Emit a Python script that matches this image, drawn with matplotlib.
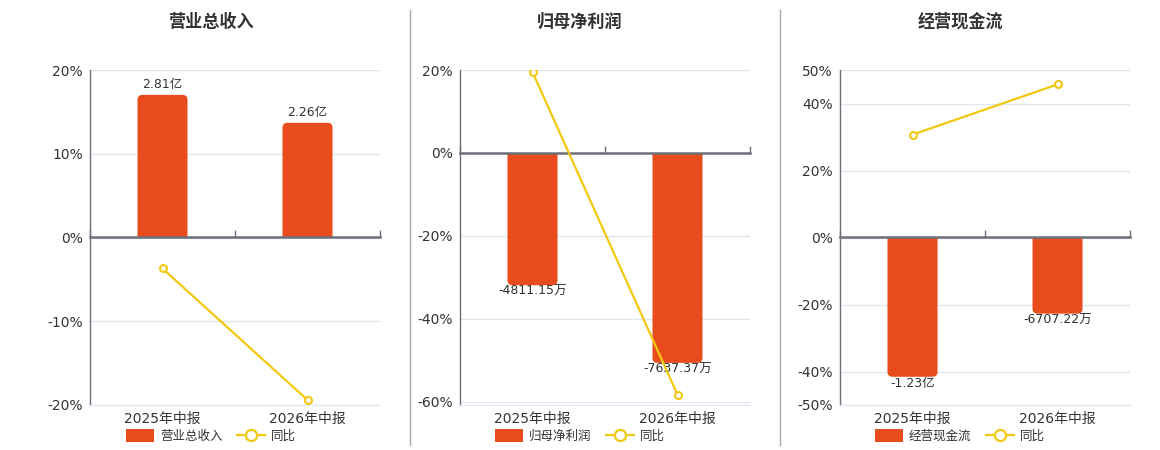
import matplotlib
matplotlib.use("Agg")
import matplotlib.pyplot as plt
from matplotlib.lines import Line2D
from matplotlib.patches import Patch, PathPatch
from matplotlib.path import Path

plt.rcParams['font.family'] = ['DejaVu Sans', 'Noto Sans CJK SC']

categories = ["2025年中报", "2026年中报"]

titles = ["营业总收入", "归母净利润", "经营现金流"]
bar_names = ["营业总收入", "归母净利润", "经营现金流"]

# bar values (营业总收入 in 亿, others in 万)
revenue = [2.81, 2.26]
net_profit = [-4811.15, -7637.37]
cash_flow = [-12300.0, -6707.22]

revenue_labels = ["2.81亿", "2.26亿"]
net_profit_labels = ["-4811.15万", "-7637.37万"]
cash_flow_labels = ["-1.23亿", "-6707.22万"]

# YoY (%)
revenue_yoy = [-3.7, -19.4]
net_profit_yoy = [19.5, -58.3]
cash_flow_yoy = [30.7, 45.7]

pct_ticks = [[-20, -10, 0, 10, 20], [-60, -40, -20, 0, 20], [-50, -40, -20, 0, 20, 40, 50]]
pct_lims = [(-20, 20), (-60.8, 20), (-50, 50)]
bar_lims = [(-3.3, 3.3), (-9170, 3020), (-14800, 14870)]

bars_all = [revenue, net_profit, cash_flow]
labels_all = [revenue_labels, net_profit_labels, cash_flow_labels]
yoy_all = [revenue_yoy, net_profit_yoy, cash_flow_yoy]

BAR = "#e84c1d"
LINE = "#f2c811"
AXIS = "#6e7079"
GRID = "#e0e6f1"
TEXT = "#333333"

W, H = 1160, 450
fig = plt.figure(figsize=(W / 100, H / 100), dpi=100)

lefts = [90, 460, 840]
centers = [211, 580, 960]
top_px, bot_px, width_px = 70, 405, 290
height_px = bot_px - top_px
radius_px = 5


def rounded_bar_path(x0, w, v, rx, ry):
    s = 1 if v >= 0 else -1
    x1 = x0 + w
    ry = min(ry, abs(v))
    verts = [(x0, 0), (x0, v - s * ry), (x0, v), (x0 + rx, v),
             (x1 - rx, v), (x1, v), (x1, v - s * ry), (x1, 0), (x0, 0)]
    codes = [Path.MOVETO, Path.LINETO, Path.CURVE3, Path.CURVE3,
             Path.LINETO, Path.CURVE3, Path.CURVE3, Path.LINETO, Path.CLOSEPOLY]
    return Path(verts, codes)


for i in range(3):
    ax = fig.add_axes([lefts[i] / W, 1 - bot_px / H, width_px / W, height_px / H])
    ax.set_xlim(-0.5, 1.5)
    ax.set_ylim(*pct_lims[i])
    ax.set_yticks(pct_ticks[i])
    ax.set_yticklabels([f"{t}%" for t in pct_ticks[i]])
    ax.grid(axis='y', color=GRID, linewidth=1)
    ax.set_axisbelow(True)
    ax.tick_params(axis='y', length=0, pad=5, labelsize=10, labelcolor=TEXT)
    ax.set_xticks(range(len(categories)))
    ax.set_xticklabels(categories)
    ax.tick_params(axis='x', length=0, pad=5, labelsize=10, labelcolor=TEXT)
    for s in ['top', 'right']:
        ax.spines[s].set_visible(False)
    ax.spines['bottom'].set_color(GRID)
    ax.spines['left'].set_color(AXIS)
    ax.spines['left'].set_linewidth(1)

    # bars on hidden twin axis
    bx = ax.twinx()
    blo, bhi = bar_lims[i]
    bx.set_ylim(blo, bhi)
    bx.axis('off')
    rects = bx.bar(range(len(categories)), bars_all[i], width=0.345, color=BAR, zorder=2)
    xpp = 2.0 / width_px
    ypp = (bhi - blo) / height_px
    for r, v, lab in zip(rects, bars_all[i], labels_all[i]):
        x0, w = r.get_x(), r.get_width()
        x = x0 + w / 2
        r.set_visible(False)
        bx.add_patch(PathPatch(rounded_bar_path(x0, w, v, radius_px * xpp, radius_px * ypp),
                               facecolor=BAR, edgecolor='none', zorder=2))
        if v >= 0:
            bx.annotate(lab, (x, v), xytext=(0, 3), textcoords='offset points',
                        ha='center', va='bottom', fontsize=9, color=TEXT)
        else:
            bx.annotate(lab, (x, v), xytext=(0, 0), textcoords='offset points',
                        ha='center', va='top', fontsize=9, color=TEXT)

    # yoy line on top
    lx = ax.twinx()
    lx.set_ylim(*pct_lims[i])
    lx.axis('off')

    # zero axis line with category boundary ticks (above bars)
    lo, hi = pct_lims[i]
    zfrac = (0 - lo) / (hi - lo)
    sec = lx.secondary_xaxis(zfrac)
    sec.set_xticks([-0.5, 0.5, 1.5])
    sec.set_xticklabels([])
    sec.tick_params(axis='x', direction='out', length=5, width=1, color=AXIS)
    for sp in sec.spines.values():
        sp.set_color(AXIS)
        sp.set_linewidth(1.8)

    lx.plot(range(len(categories)), yoy_all[i], color=LINE, linewidth=1.6,
            marker='o', markersize=5, markerfacecolor='white', markeredgecolor=LINE,
            markeredgewidth=1.5, zorder=3)

    fig.text(centers[i] / W, 1 - 22 / H, titles[i], ha='center', va='center',
             fontsize=12.3, fontweight='bold', color=TEXT)

    handles = [Patch(facecolor=BAR, edgecolor='none', label=bar_names[i]),
               Line2D([0], [0], color=LINE, linewidth=1.6, marker='o', markersize=8,
                      markerfacecolor='white', markeredgecolor=LINE, markeredgewidth=1.6,
                      label="同比")]
    fig.legend(handles=handles, loc='center', bbox_to_anchor=(centers[i] / W, 1 - 436 / H),
               ncol=2, frameon=False, fontsize=9, handlelength=2.2, handleheight=1.2,
               columnspacing=1.2, handletextpad=0.5, labelcolor=TEXT)

for xp in [410, 780]:
    fig.add_artist(Line2D([xp / W, xp / W], [1 - 445 / H, 1 - 10 / H], color="#aaaaaa", linewidth=1))

fig.savefig("out.png", dpi=100)
